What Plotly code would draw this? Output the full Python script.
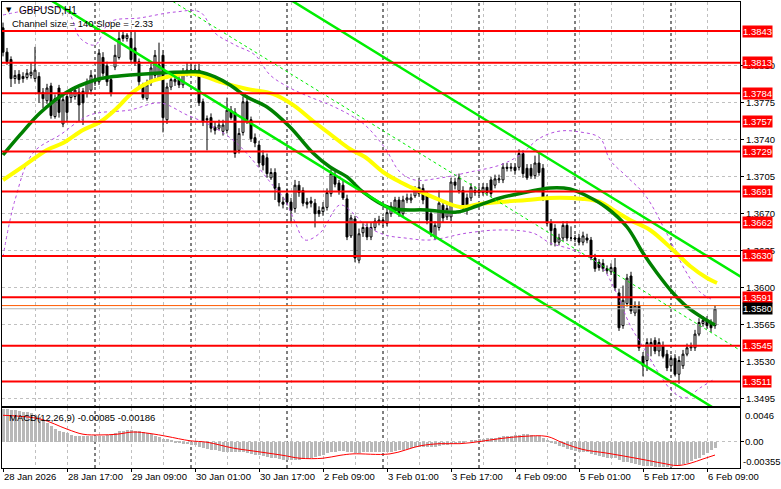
import plotly.graph_objects as go

FONT = "Liberation Sans, Arial, sans-serif"

# ---------------- data (GBPUSD H1) ----------------
opens = [
    1.3846, 1.3823, 1.3816, 1.3798, 1.3802, 1.3800, 1.3799, 1.3801, 1.3798, 1.3800,
    1.3785, 1.3777, 1.3791, 1.3762, 1.3789, 1.3755, 1.3781, 1.3780, 1.3781, 1.3785,
    1.3786, 1.3784, 1.3787, 1.3798, 1.3795, 1.3818, 1.3810, 1.3797, 1.3809, 1.3818,
    1.3839, 1.3836, 1.3836, 1.3827, 1.3814, 1.3790, 1.3779, 1.3794, 1.3801, 1.3798,
    1.3820, 1.3759, 1.3790, 1.3795, 1.3797, 1.3792, 1.3803, 1.3804, 1.3805, 1.3806,
    1.3776, 1.3760, 1.3761, 1.3752, 1.3751, 1.3748, 1.3749, 1.3768, 1.3766, 1.3730,
    1.3747, 1.3776, 1.3759, 1.3742, 1.3735, 1.3725, 1.3723, 1.3704, 1.3709, 1.3695,
    1.3681, 1.3689, 1.3681, 1.3675, 1.3697, 1.3692, 1.3681, 1.3682, 1.3680, 1.3673,
    1.3672, 1.3676, 1.3689, 1.3706, 1.3699, 1.3697, 1.3684, 1.3649, 1.3665, 1.3626,
    1.3652, 1.3657, 1.3648, 1.3657, 1.3662, 1.3664, 1.3661, 1.3670, 1.3676, 1.3683,
    1.3670, 1.3683, 1.3683, 1.3687, 1.3689, 1.3694, 1.3687, 1.3670, 1.3648, 1.3657,
    1.3678, 1.3667, 1.3667, 1.3700, 1.3692, 1.3692, 1.3685, 1.3685, 1.3692, 1.3690,
    1.3690, 1.3695, 1.3702, 1.3697, 1.3702, 1.3702, 1.3714, 1.3713, 1.3714, 1.3714,
    1.3727, 1.3713, 1.3713, 1.3706, 1.3718, 1.3713, 1.3684, 1.3661, 1.3656, 1.3643,
    1.3647, 1.3659, 1.3647, 1.3647, 1.3647, 1.3643, 1.3647, 1.3645, 1.3628, 1.3624,
    1.3623, 1.3618, 1.3615, 1.3619, 1.3595, 1.3564, 1.3585, 1.3611, 1.3576, 1.3583,
    1.3535, 1.3531, 1.3545, 1.3550, 1.3540, 1.3545, 1.3537, 1.3526, 1.3533, 1.3518,
    1.3526, 1.3537, 1.3543, 1.3543, 1.3556, 1.3566, 1.3569, 1.3566, 1.3564,
]
highs = [
    1.3851, 1.3827, 1.3819, 1.3806, 1.3806, 1.3804, 1.3807, 1.3813, 1.3828, 1.3804,
    1.3789, 1.3793, 1.3794, 1.3783, 1.3792, 1.3783, 1.3785, 1.3789, 1.3791, 1.3789,
    1.3789, 1.3798, 1.3806, 1.3802, 1.3826, 1.3823, 1.3814, 1.3800, 1.3830, 1.3842,
    1.3843, 1.3841, 1.3844, 1.3842, 1.3817, 1.3794, 1.3797, 1.3812, 1.3825, 1.3832,
    1.3825, 1.3794, 1.3800, 1.3800, 1.3800, 1.3808, 1.3813, 1.3811, 1.3811, 1.3812,
    1.3779, 1.3763, 1.3765, 1.3757, 1.3759, 1.3759, 1.3780, 1.3772, 1.3770, 1.3751,
    1.3781, 1.3782, 1.3762, 1.3746, 1.3739, 1.3730, 1.3727, 1.3713, 1.3713, 1.3699,
    1.3686, 1.3694, 1.3685, 1.3702, 1.3701, 1.3695, 1.3685, 1.3686, 1.3684, 1.3677,
    1.3681, 1.3694, 1.3712, 1.3710, 1.3702, 1.3701, 1.3688, 1.3669, 1.3668, 1.3656,
    1.3661, 1.3661, 1.3662, 1.3666, 1.3668, 1.3667, 1.3675, 1.3681, 1.3686, 1.3686,
    1.3687, 1.3689, 1.3689, 1.3696, 1.3704, 1.3698, 1.3691, 1.3674, 1.3663, 1.3692,
    1.3682, 1.3679, 1.3704, 1.3704, 1.3708, 1.3696, 1.3689, 1.3699, 1.3696, 1.3696,
    1.3699, 1.3699, 1.3705, 1.3707, 1.3707, 1.3718, 1.3718, 1.3718, 1.3718, 1.3731,
    1.3730, 1.3717, 1.3717, 1.3725, 1.3728, 1.3717, 1.3688, 1.3665, 1.3660, 1.3651,
    1.3663, 1.3663, 1.3658, 1.3650, 1.3651, 1.3653, 1.3651, 1.3648, 1.3632, 1.3627,
    1.3627, 1.3621, 1.3623, 1.3628, 1.3599, 1.3602, 1.3613, 1.3615, 1.3587, 1.3587,
    1.3539, 1.3552, 1.3552, 1.3553, 1.3552, 1.3549, 1.3541, 1.3536, 1.3537, 1.3535,
    1.3541, 1.3547, 1.3548, 1.3560, 1.3571, 1.3573, 1.3573, 1.3570, 1.3583,
]
lows = [
    1.3819, 1.3811, 1.3790, 1.3793, 1.3793, 1.3794, 1.3797, 1.3798, 1.3795, 1.3775,
    1.3770, 1.3774, 1.3760, 1.3760, 1.3761, 1.3752, 1.3757, 1.3775, 1.3778, 1.3757,
    1.3754, 1.3780, 1.3783, 1.3791, 1.3792, 1.3800, 1.3791, 1.3781, 1.3806, 1.3816,
    1.3833, 1.3833, 1.3813, 1.3810, 1.3791, 1.3778, 1.3777, 1.3791, 1.3798, 1.3797,
    1.3747, 1.3755, 1.3787, 1.3791, 1.3789, 1.3789, 1.3800, 1.3801, 1.3802, 1.3772,
    1.3753, 1.3730, 1.3747, 1.3745, 1.3749, 1.3744, 1.3746, 1.3759, 1.3723, 1.3727,
    1.3744, 1.3755, 1.3738, 1.3733, 1.3714, 1.3711, 1.3704, 1.3702, 1.3683, 1.3677,
    1.3675, 1.3678, 1.3661, 1.3671, 1.3686, 1.3677, 1.3675, 1.3676, 1.3657, 1.3667,
    1.3668, 1.3673, 1.3686, 1.3695, 1.3688, 1.3683, 1.3645, 1.3647, 1.3624, 1.3623,
    1.3648, 1.3645, 1.3645, 1.3654, 1.3659, 1.3658, 1.3658, 1.3667, 1.3673, 1.3667,
    1.3667, 1.3680, 1.3680, 1.3685, 1.3686, 1.3679, 1.3660, 1.3648, 1.3645, 1.3654,
    1.3662, 1.3664, 1.3663, 1.3693, 1.3689, 1.3672, 1.3669, 1.3682, 1.3687, 1.3687,
    1.3687, 1.3687, 1.3686, 1.3694, 1.3699, 1.3699, 1.3710, 1.3710, 1.3707, 1.3711,
    1.3704, 1.3702, 1.3703, 1.3703, 1.3706, 1.3682, 1.3658, 1.3640, 1.3639, 1.3640,
    1.3644, 1.3644, 1.3644, 1.3643, 1.3640, 1.3640, 1.3642, 1.3626, 1.3615, 1.3616,
    1.3615, 1.3613, 1.3612, 1.3597, 1.3559, 1.3561, 1.3582, 1.3575, 1.3573, 1.3540,
    1.3516, 1.3521, 1.3535, 1.3537, 1.3535, 1.3533, 1.3521, 1.3521, 1.3516, 1.3509,
    1.3523, 1.3535, 1.3540, 1.3540, 1.3554, 1.3563, 1.3561, 1.3558, 1.3561,
]
closes = [
    1.3823, 1.3814, 1.3798, 1.3801, 1.3797, 1.3798, 1.3803, 1.3804, 1.3806, 1.3784,
    1.3779, 1.3789, 1.3763, 1.3779, 1.3766, 1.3778, 1.3766, 1.3785, 1.3787, 1.3773,
    1.3775, 1.3795, 1.3801, 1.3795, 1.3822, 1.3803, 1.3795, 1.3784, 1.3820, 1.3836,
    1.3836, 1.3839, 1.3816, 1.3813, 1.3795, 1.3780, 1.3792, 1.3808, 1.3820, 1.3811,
    1.3761, 1.3790, 1.3797, 1.3797, 1.3792, 1.3804, 1.3806, 1.3806, 1.3806, 1.3775,
    1.3757, 1.3759, 1.3751, 1.3749, 1.3754, 1.3754, 1.3768, 1.3761, 1.3727, 1.3746,
    1.3776, 1.3759, 1.3741, 1.3737, 1.3718, 1.3716, 1.3708, 1.3709, 1.3694, 1.3681,
    1.3679, 1.3681, 1.3673, 1.3697, 1.3690, 1.3680, 1.3679, 1.3680, 1.3670, 1.3670,
    1.3676, 1.3690, 1.3708, 1.3698, 1.3692, 1.3685, 1.3648, 1.3666, 1.3628, 1.3651,
    1.3657, 1.3648, 1.3657, 1.3663, 1.3664, 1.3662, 1.3671, 1.3677, 1.3683, 1.3670,
    1.3683, 1.3685, 1.3685, 1.3692, 1.3695, 1.3683, 1.3664, 1.3652, 1.3659, 1.3680,
    1.3666, 1.3675, 1.3700, 1.3697, 1.3704, 1.3675, 1.3673, 1.3695, 1.3690, 1.3692,
    1.3695, 1.3690, 1.3689, 1.3703, 1.3703, 1.3714, 1.3713, 1.3714, 1.3711, 1.3727,
    1.3708, 1.3704, 1.3706, 1.3718, 1.3709, 1.3684, 1.3661, 1.3654, 1.3643, 1.3647,
    1.3659, 1.3647, 1.3647, 1.3646, 1.3643, 1.3649, 1.3645, 1.3628, 1.3618, 1.3619,
    1.3618, 1.3616, 1.3619, 1.3600, 1.3562, 1.3588, 1.3609, 1.3578, 1.3583, 1.3543,
    1.3526, 1.3548, 1.3548, 1.3540, 1.3548, 1.3535, 1.3524, 1.3533, 1.3518, 1.3531,
    1.3537, 1.3543, 1.3544, 1.3556, 1.3567, 1.3569, 1.3564, 1.3562, 1.3580,
]
bars = list(range(len(closes)))

# time axis (bar index of label, text)
time_tick_bars = [0, 16, 32, 48, 64, 80, 96, 112, 128, 144, 160, 176]
time_tick_labels = ["28 Jan 2026", "28 Jan 17:00", "29 Jan 09:00", "30 Jan 01:00",
                    "30 Jan 17:00", "2 Feb 09:00", "3 Feb 01:00", "3 Feb 17:00",
                    "4 Feb 09:00", "5 Feb 01:00", "5 Feb 17:00", "6 Feb 09:00"]
grid_bars = list(range(0, 185, 8))
day_start_bars = [23, 47, 71, 95, 119, 143, 167]

price_ticks = [1.3495, 1.3530, 1.3565, 1.3600, 1.3635, 1.3670, 1.3705, 1.3740, 1.3775, 1.3810]
levels = [1.3843, 1.3813, 1.3784, 1.3757, 1.3729, 1.3691, 1.3662, 1.3630, 1.3591, 1.3545, 1.3511]
bid_price = 1.3580
ask_price = 1.3583

# moving averages (sampled along the curves)
ma_green_x = [0, 4.25, 9.25, 16, 23, 26.75, 31.75, 39.25, 46, 49.25, 53, 56.75, 61, 66, 71.75,
              77.5, 81.75, 86, 90, 96.75, 106, 113.5, 118.5, 124.25, 131, 136.75, 141.75, 146,
              151, 156, 160, 163.5, 167.5, 171, 175, 178]
ma_green_y = [1.37256, 1.37446, 1.37654, 1.37853, 1.37966, 1.37995, 1.38014, 1.38033, 1.38042,
              1.38042, 1.37995, 1.37919, 1.37805, 1.37711, 1.37521, 1.37275, 1.37142, 1.37048,
              1.36906, 1.36754, 1.36735, 1.36716, 1.36773, 1.36849, 1.36906, 1.36944, 1.36934,
              1.36868, 1.36754, 1.36574, 1.36328, 1.36139, 1.35949, 1.35817, 1.35712, 1.35646]
ma_yellow_x = [0, 5.5, 11, 15, 20, 24.25, 28.5, 32.5, 36.75, 41, 45, 49.25, 54.25, 61, 67.5,
               72.5, 77.5, 81.75, 86.75, 90.5, 95, 99.25, 103.5, 109.25, 114.25, 119.25, 124.25,
               131, 136.75, 145, 149.25, 153, 156.75, 161.75, 167.5, 171.75, 176, 178.5]
ma_yellow_y = [1.37019, 1.37161, 1.37304, 1.37370, 1.37493, 1.37569, 1.37701, 1.37853, 1.37948,
               1.37995, 1.38023, 1.38014, 1.37948, 1.37881, 1.37834, 1.37730, 1.37578, 1.37455,
               1.37313, 1.37237, 1.37095, 1.37001, 1.36925, 1.36830, 1.36764, 1.36792, 1.36811,
               1.36830, 1.36849, 1.36840, 1.36811, 1.36726, 1.36641, 1.36546, 1.36357, 1.36205,
               1.36091, 1.36044]

# Bollinger envelopes (sampled)
bb_upper_x = [0, 6.75, 14.25, 16.75, 19.25, 23, 26.75, 34.25, 43, 49.25, 53, 58, 63, 66.75,
              71.75, 76.75, 81.75, 86.75, 90.5, 95.5, 99.25, 103, 109.25, 116.75, 124.25, 129.25,
              134.25, 139.25, 144.25, 149.25, 151.75, 155.5, 160.5, 165.5, 170.5, 174.25, 177.5]
bb_upper_y = [1.38582, 1.38629, 1.38648, 1.38582, 1.38364, 1.38298, 1.38516, 1.38554, 1.38610,
              1.38610, 1.38411, 1.38298, 1.38203, 1.38014, 1.37891, 1.37805, 1.37730, 1.37635,
              1.37540, 1.37322, 1.37095, 1.37019, 1.37038, 1.37095, 1.37161, 1.37256, 1.37417,
              1.37483, 1.37474, 1.37417, 1.37209, 1.37067, 1.36877, 1.36546, 1.36167, 1.35959,
              1.35883]
bb_lower_x = [0, 3, 7.5, 14.25, 21.75, 31.75, 39.25, 46, 51.75, 57.5, 61.75, 66.75, 70.5, 73,
              75.5, 79.25, 84.25, 88, 90.5, 95.5, 100.5, 106.75, 116, 124.25, 132.5, 136.75,
              142.5, 149.25, 153, 156.75, 160.5, 164.25, 167.5, 170.5, 174.25, 177.5]
bb_lower_y = [1.36290, 1.36830, 1.37275, 1.37446, 1.37635, 1.37682, 1.37749, 1.37635, 1.37540,
              1.37398, 1.37237, 1.37001, 1.36830, 1.36622, 1.36451, 1.36517, 1.36783, 1.36688,
              1.36593, 1.36499, 1.36470, 1.36451, 1.36517, 1.36546, 1.36517, 1.36423, 1.36357,
              1.36214, 1.35978, 1.35646, 1.35410, 1.35173, 1.35012, 1.34955, 1.35050, 1.35125]

# regression channel: "Channel size = 140 Slope = -2.33"
channel_size = 0.0140
channel_slope = -0.000233          # price per bar
channel_lower_bar0 = 1.3900        # lower channel line at bar 0

# MACD(12,26,9)
macd_hist = [
    0.0044, 0.0044, 0.0043, 0.0043, 0.0042, 0.0041, 0.0040, 0.0039, 0.0037, 0.0034,
    0.0030, 0.0025, 0.0021, 0.0017, 0.0014, 0.0013, 0.0011, 0.0009, 0.0008, 0.0008,
    0.0007, 0.0007, 0.0007, 0.0007, 0.0008, 0.0008, 0.0009, 0.0009, 0.0012, 0.0014,
    0.0015, 0.0016, 0.0016, 0.0015, 0.0014, 0.0013, 0.0011, 0.0010, 0.0008, 0.0006,
    0.0004, 0.0003, 0.0001, -0.0001, -0.0002, -0.0003, -0.0004, -0.0005, -0.0005, -0.0007,
    -0.0009, -0.0010, -0.0011, -0.0012, -0.0013, -0.0014, -0.0014, -0.0014, -0.0014, -0.0015,
    -0.0015, -0.0016, -0.0017, -0.0018, -0.0019, -0.0020, -0.0021, -0.0023, -0.0023, -0.0024,
    -0.0025, -0.0026, -0.0026, -0.0026, -0.0025, -0.0024, -0.0023, -0.0023, -0.0021, -0.0020,
    -0.0018, -0.0016, -0.0014, -0.0014, -0.0013, -0.0013, -0.0014, -0.0015, -0.0016, -0.0016,
    -0.0015, -0.0015, -0.0015, -0.0014, -0.0014, -0.0014, -0.0014, -0.0014, -0.0013, -0.0012,
    -0.0011, -0.0010, -0.0009, -0.0008, -0.0007, -0.0007, -0.0007, -0.0007, -0.0007, -0.0006,
    -0.0005, -0.0005, -0.0004, -0.0003, -0.0002, -0.0001, 0.0000, 0.0001, 0.0002, 0.0003,
    0.0004, 0.0005, 0.0005, 0.0005, 0.0006, 0.0007, 0.0007, 0.0008, 0.0009, 0.0009,
    0.0010, 0.0010, 0.0009, 0.0008, 0.0007, 0.0005, 0.0002, -0.0001, -0.0004, -0.0006,
    -0.0008, -0.0010, -0.0012, -0.0013, -0.0014, -0.0014, -0.0015, -0.0017, -0.0019, -0.0020,
    -0.0021, -0.0022, -0.0023, -0.0023, -0.0026, -0.0028, -0.0028, -0.0030, -0.0031, -0.0032,
    -0.0033, -0.0034, -0.0034, -0.0035, -0.0035, -0.0035, -0.0035, -0.0035, -0.0034, -0.0033,
    -0.0031, -0.0029, -0.0027, -0.0024, -0.0022, -0.0019, -0.0016, -0.0012, -0.00085,
]
macd_signal_x = [0, 9.25, 16, 20, 24.25, 28.5, 32.5, 36.75, 41, 46.75, 51, 57.5, 62.5, 70,
                 74.25, 80, 84.25, 87.5, 96.75, 104.25, 109.25, 114.25, 119.25, 124.25, 130,
                 136, 140, 145, 151, 159.25, 165, 168.5, 171.75, 175, 178]
macd_signal_y = [0.0036, 0.0031, 0.0017, 0.0010, 0.0009, 0.0010, 0.0013, 0.0011, 0.0007,
                 0.0001, -0.0001, -0.0009, -0.0013, -0.0019, -0.0023, -0.0023, -0.0019,
                 -0.0017, -0.0017, -0.0006, -0.0003, -0.0003, 0.0000, 0.0004, 0.0007, 0.0007,
                 -0.0002, -0.0011, -0.0016, -0.0024, -0.0030, -0.0033, -0.0030, -0.0024,
                 -0.00186]
macd_main_value = -0.00085
macd_signal_value = -0.00186
macd_scale_max = 0.0046
macd_scale_min = -0.00355

# ---------------- figure ----------------
W, H = 781, 489
ML, MR, MT, MB = 2, 41, 2, 21
PW, PH = W - ML - MR, H - MT - MB


def px_x(px):
    return (px - ML) / PW


def px_y(py):
    return (H - MB - py) / PH


X_RANGE = [-0.25, 184.25]
Y_RANGE = [1.34879, 1.38705]
Y2_RANGE = [-0.00364, 0.0046]

fig = go.Figure()

fig.add_trace(go.Candlestick(
    x=bars, open=opens, high=highs, low=lows, close=closes,
    increasing=dict(fillcolor="white", line=dict(color="black", width=1)),
    decreasing=dict(fillcolor="black", line=dict(color="black", width=1)),
    whiskerwidth=0, showlegend=False, hoverinfo="skip",
    xaxis="x", yaxis="y"))

# Bollinger envelopes
for bx, by in ((bb_upper_x, bb_upper_y), (bb_lower_x, bb_lower_y)):
    fig.add_trace(go.Scatter(x=bx, y=by, mode="lines", line_shape="spline",
                             line=dict(color="#b44fe0", width=1, dash="3px,3px"),
                             showlegend=False, hoverinfo="skip", xaxis="x", yaxis="y"))

# moving averages
fig.add_trace(go.Scatter(x=ma_yellow_x, y=ma_yellow_y, mode="lines", line_shape="spline",
                         line=dict(color="#ffff00", width=4),
                         showlegend=False, hoverinfo="skip", xaxis="x", yaxis="y"))
fig.add_trace(go.Scatter(x=ma_green_x, y=ma_green_y, mode="lines", line_shape="spline",
                         line=dict(color="#008000", width=3.5),
                         showlegend=False, hoverinfo="skip", xaxis="x", yaxis="y"))

# regression channel
ch_x = [X_RANGE[0] - 2, X_RANGE[1] + 2]
lower = [channel_lower_bar0 + channel_slope * b for b in ch_x]
upper = [v + channel_size for v in lower]
middle = [v + channel_size / 2 for v in lower]
for yy in (lower, upper):
    fig.add_trace(go.Scatter(x=ch_x, y=yy, mode="lines",
                             line=dict(color="#00ee00", width=2.5),
                             showlegend=False, hoverinfo="skip", xaxis="x", yaxis="y"))
fig.add_trace(go.Scatter(x=ch_x, y=middle, mode="lines",
                         line=dict(color="#00ee00", width=1, dash="3px,3px"),
                         showlegend=False, hoverinfo="skip", xaxis="x", yaxis="y"))

# MACD
fig.add_trace(go.Bar(x=bars, y=macd_hist, width=0.75,
                     marker=dict(color="#b8b8b8", line=dict(width=0)),
                     showlegend=False, hoverinfo="skip", xaxis="x2", yaxis="y2"))
fig.add_trace(go.Scatter(x=macd_signal_x, y=macd_signal_y, mode="lines", line_shape="spline",
                         line=dict(color="#ff0000", width=1),
                         showlegend=False, hoverinfo="skip", xaxis="x2", yaxis="y2"))

shapes = []
for b in day_start_bars:
    shapes.append(dict(type="line", xref="x", x0=b, x1=b, yref="paper", y0=0, y1=1,
                       line=dict(color="black", width=1, dash="3px,3px"), layer="between"))
for lv in levels:
    shapes.append(dict(type="line", xref="x domain", x0=0, x1=1, yref="y", y0=lv, y1=lv,
                       line=dict(color="#ff0000", width=2), layer="above"))
shapes.append(dict(type="line", xref="x domain", x0=0, x1=1, yref="y", y0=ask_price, y1=ask_price,
                   line=dict(color="#ff5a00", width=1), layer="above"))
shapes.append(dict(type="line", xref="x domain", x0=0, x1=1, yref="y", y0=bid_price, y1=bid_price,
                   line=dict(color="#b4b4b4", width=1), layer="above"))

annotations = []
for lv in levels:
    annotations.append(dict(xref="paper", x=1, xanchor="left", xshift=2, yref="y", y=lv,
                            yanchor="middle", text=f"{lv:.4f}", showarrow=False,
                            bgcolor="#ff0000", borderpad=0,
                            font=dict(color="white", size=9.5, family=FONT)))
annotations.append(dict(xref="paper", x=1, xanchor="left", xshift=2, yref="y", y=bid_price,
                        yanchor="middle", text=f"{bid_price:.4f}", showarrow=False,
                        bgcolor="black", borderpad=0,
                        font=dict(color="white", size=9.5, family=FONT)))
# MACD scale labels
annotations.append(dict(xref="paper", x=1, xanchor="left", xshift=3, yref="y2", y=macd_scale_max,
                        yanchor="top", text=f"{macd_scale_max:.4f}", showarrow=False,
                        font=dict(color="black", size=9.5, family=FONT)))
annotations.append(dict(xref="paper", x=1, xanchor="left", xshift=3, yref="y2", y=0,
                        yanchor="middle", text="0.00", showarrow=False,
                        font=dict(color="black", size=9.5, family=FONT)))
annotations.append(dict(xref="paper", x=1, xanchor="left", xshift=1, yref="y2", y=macd_scale_min,
                        yanchor="bottom", yshift=-2, text=f"{macd_scale_min:.5f}", showarrow=False,
                        font=dict(color="black", size=9.5, family=FONT)))
# captions
annotations.append(dict(xref="paper", yref="paper", x=px_x(4), y=px_y(10), xanchor="left",
                        yanchor="middle", text="▼", showarrow=False,
                        font=dict(color="black", size=7, family="DejaVu Sans")))
annotations.append(dict(xref="paper", yref="paper", x=px_x(17), y=px_y(10), xanchor="left",
                        yanchor="middle", text="GBPUSD,H1", showarrow=False,
                        font=dict(color="black", size=10, family=FONT)))
annotations.append(dict(xref="paper", yref="paper", x=px_x(10), y=px_y(24), xanchor="left",
                        yanchor="middle", text="Channel size = 140 Slope = -2.33", showarrow=False,
                        font=dict(color="black", size=9.5, family=FONT)))
annotations.append(dict(xref="paper", yref="paper", x=px_x(7), y=px_y(417), xanchor="left",
                        yanchor="middle",
                        text=f"MACD(12,26,9) {macd_main_value:.5f} {macd_signal_value:.5f}",
                        showarrow=False, font=dict(color="black", size=9.5, family=FONT)))

main_bottom = px_y(406)
macd_top = px_y(408)

axis_common = dict(showline=True, mirror=True, linecolor="black", linewidth=1, zeroline=False,
                   gridcolor="#c0c0c0", griddash="3px,3px", gridwidth=1)

fig.update_layout(
    width=W, height=H,
    margin=dict(l=ML, r=MR, t=MT, b=MB, pad=0),
    paper_bgcolor="white", plot_bgcolor="white",
    showlegend=False, bargap=0,
    xaxis=dict(domain=[0, 1], anchor="y", range=X_RANGE, tickmode="array",
               tickvals=grid_bars, showticklabels=False, ticks="", showgrid=True,
               rangeslider=dict(visible=False), **axis_common),
    xaxis2=dict(domain=[0, 1], anchor="y2", matches="x", range=X_RANGE, tickmode="array",
                tickvals=time_tick_bars, ticktext=time_tick_labels,
                ticklabelposition="outside right", ticks="outside", ticklen=3,
                tickcolor="black", showgrid=True,
                minor=dict(tickvals=grid_bars, showgrid=True, gridcolor="#c0c0c0",
                           griddash="3px,3px", ticks=""),
                tickfont=dict(size=9.5, family=FONT, color="black"),
                rangeslider=dict(visible=False), **axis_common),
    yaxis=dict(domain=[main_bottom, 1], anchor="x", range=Y_RANGE, side="right",
               tickmode="array", tickvals=price_ticks,
               ticktext=[f"{v:.4f}" for v in price_ticks], ticks="outside", ticklen=3,
               tickcolor="black", showgrid=True,
               tickfont=dict(size=9.5, family=FONT, color="black"), **axis_common),
    yaxis2=dict(domain=[0, macd_top], anchor="x2", range=Y2_RANGE, side="right",
                tickmode="array", tickvals=[0], showticklabels=False, ticks="outside",
                ticklen=3, tickcolor="black", showgrid=True, **axis_common),
    shapes=shapes,
    annotations=annotations,
)

# remove the default page margin so the chart sits at the window's top-left corner
fig.write_html("out.html",
               config={"displayModeBar": False},
               post_script="document.body.style.margin='0px';document.body.style.padding='0px';")
